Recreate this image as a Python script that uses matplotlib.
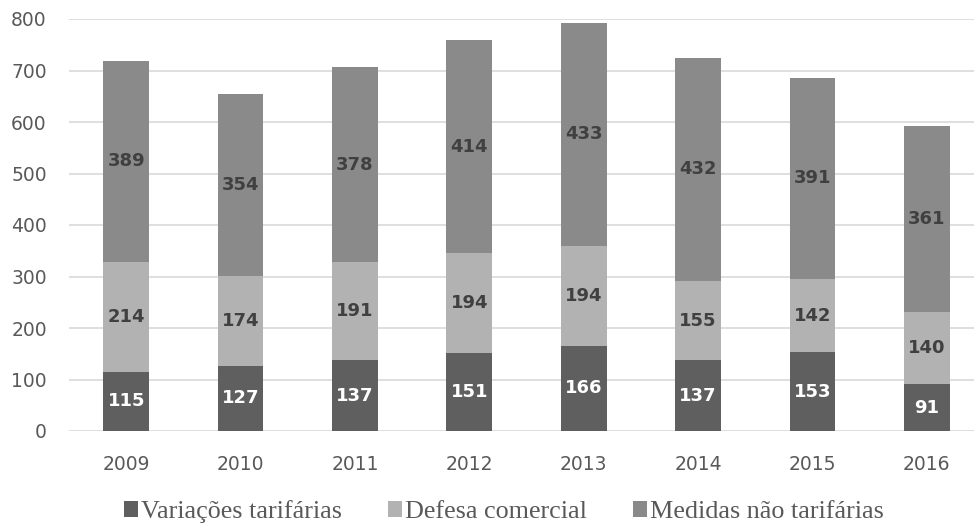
import matplotlib
matplotlib.use("Agg")
import matplotlib.pyplot as plt
from matplotlib.patches import Patch
import numpy as np

years = ["2009", "2010", "2011", "2012", "2013", "2014", "2015", "2016"]
variacoes = [115, 127, 137, 151, 166, 137, 153, 91]
defesa = [214, 174, 191, 194, 194, 155, 142, 140]
medidas = [389, 354, 378, 414, 433, 432, 391, 361]
series_names = ["Variações tarifárias", "Defesa comercial", "Medidas não tarifárias"]

colors = ["#5f5f5f", "#b2b2b2", "#8a8a8a"]
label_colors = ["white", "#404040", "#404040"]

fig = plt.figure(figsize=(9.74, 5.30), dpi=100)
ax = fig.add_axes([69/974, 1-431/530, 915/974, 412/530])

x = np.arange(len(years))
bottom = np.zeros(len(years))
for vals, c, lc in zip([variacoes, defesa, medidas], colors, label_colors):
    vals = np.array(vals, dtype=float)
    ax.bar(x, vals, width=0.40, bottom=bottom, color=c, zorder=3)
    for xi, b, v in zip(x, bottom, vals):
        ax.text(xi, b + v/2, f"{int(v)}", ha="center", va="center",
                fontsize=13, fontweight="bold", color=lc, family="DejaVu Sans", zorder=4)
    bottom += vals

ax.set_xlim(-0.5, 7.5)
ax.set_ylim(0, 800)
ax.set_yticks(range(0, 801, 100))
ax.set_xticks(x)
ax.set_xticklabels(years)
ax.grid(axis="y", color="#d9d9d9", linewidth=1.2, zorder=0)
for s in ax.spines.values():
    s.set_visible(False)
ax.tick_params(axis="both", length=0, labelsize=13.5, labelcolor="#595959")
ax.tick_params(axis="y", pad=16)
ax.tick_params(axis="x", pad=17)

handles = [Patch(facecolor=c, edgecolor="none") for c in colors]
fig.legend(handles, series_names, loc="center", bbox_to_anchor=(504/974, 1-512/530), ncol=3,
           frameon=False, prop={"family": "Liberation Serif", "size": 18.8},
           handlelength=0.55, handleheight=0.55, handletextpad=0.12, columnspacing=1.75,
           labelcolor="#595959")

fig.savefig("out.png", dpi=100)
